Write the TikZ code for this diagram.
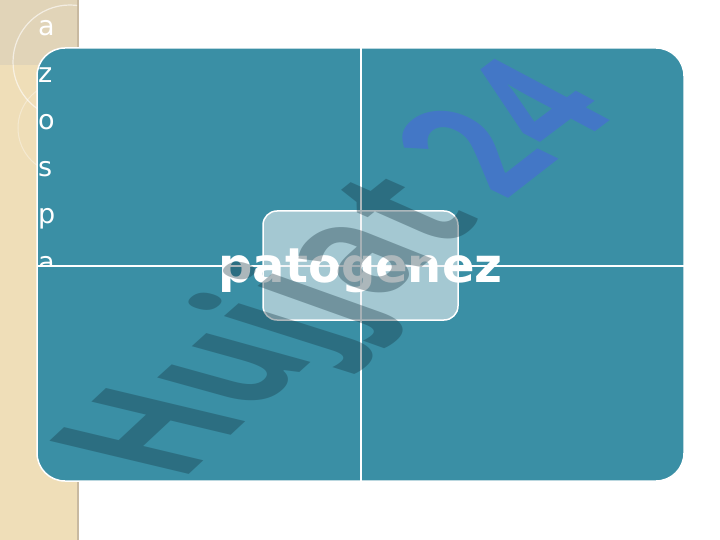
\documentclass[tikz,border=0pt]{standalone}
\usepackage{fontspec}
\setmainfont{DejaVu Sans}
\newfontfamily\markfont{Open Sans}
\definecolor{panelteal}{RGB}{58,143,165}
\definecolor{stripbeige}{RGB}{239,222,184}
\definecolor{striptop}{RGB}{225,212,184}
\definecolor{stripedge}{RGB}{200,185,160}
\definecolor{boxgrey}{RGB}{236,238,240}
\definecolor{markdark}{RGB}{20,50,62}
\definecolor{markblue}{RGB}{80,90,240}
\tikzset{
  panel/.style={fill=panelteal, draw=white, line width=1.5pt, rounded corners=28pt},
  divider/.style={draw=white, line width=1.6pt},
  sideletter/.style={anchor=base west, inner sep=0pt, text=white,
    font=\fontsize{27}{27}\selectfont},
  centrebox/.style={rounded corners=14pt, fill=boxgrey, fill opacity=0.6,
    draw=white, line width=1.5pt, minimum width=195pt, minimum height=109pt},
  title/.style={anchor=base, inner sep=0pt, text=white,
    font=\bfseries\fontsize{48}{48}\selectfont},
  markglyph/.style={inner sep=0pt, anchor=base west, transform shape,
    font=\markfont\bfseries\fontsize{118}{118}\selectfont}
}
\begin{document}
\begin{tikzpicture}[x=1pt, y=-1pt]
  \useasboundingbox (0,0) rectangle (720,540);
  \fill[white] (0,0) rectangle (720,540);
  % side strip
  \fill[stripbeige] (0,0) rectangle (78,540);
  \fill[striptop] (0,0) rectangle (78,65);
  \draw[stripedge, line width=1.5pt] (78,0) -- (78,540);
  \begin{scope}
    \clip (0,0) rectangle (77,540);
    \draw[white, opacity=0.6, line width=1.2pt] (70,62) circle[radius=57pt];
    \draw[white, opacity=0.35, line width=1pt] (64,128) circle[radius=46pt];
  \end{scope}
  % matrix panel
  \draw[panel] (37,48) rectangle (684,481);
  \begin{scope}
    \clip (0,0) rectangle (720,265);
    \foreach \ch [count=\i from 0] in {a,z,o,s,p,a}
      \node[sideletter] (letter\i) at (38,{36+47*\i}) {\ch};
  \end{scope}
  \draw[divider] (361,48) -- (361,481);
  \draw[divider] (37,266) -- (684,266);
  %
  \node[centrebox] (centre) at (360.5,265.5) {};
  \node[title] (label) at (360.5,282) {patogenez};
  %
  % watermark, one glyph at a time, each leaning a bit more
  \coordinate (markstart) at (180,483);
  \foreach \ch/\k/\col/\op in {H/1/markdark/0.35, u/2/markdark/0.35,
      j/3/markdark/0.35, j/4/markdark/0.35, a/5/markdark/0.35,
      t/6/markdark/0.35, {\hspace{0.2em}2}/7/markblue/0.45, 4/8/markblue/0.45} {
    \pgfmathsetmacro{\tpos}{(\k-1)/7}
    \pgfmathsetmacro{\sb}{1.12-0.04*\tpos}
    \pgfmathsetmacro{\ab}{43-6*\tpos}
    \pgfmathsetmacro{\su}{1.70-0.15*\tpos}
    \pgfmathsetmacro{\au}{166.6-14.6*\tpos}
    \pgfmathsetmacro{\ma}{\sb*cos(\ab)}
    \pgfmathsetmacro{\mb}{\sb*sin(\ab)}
    \pgfmathsetmacro{\mc}{\su*cos(\au)}
    \pgfmathsetmacro{\md}{\su*sin(\au)}
    \pgfmathtruncatemacro{\prev}{\k-1}
    \ifnum\k=1 \def\from{markstart}\else \def\from{mark\prev.base east}\fi
    \node[markglyph, cm={\ma,\mb,\mc,\md,(0,0)}, text=\col, text opacity=\op]
      (mark\k) at (\from) {\ch};
  }
\end{tikzpicture}
\end{document}
